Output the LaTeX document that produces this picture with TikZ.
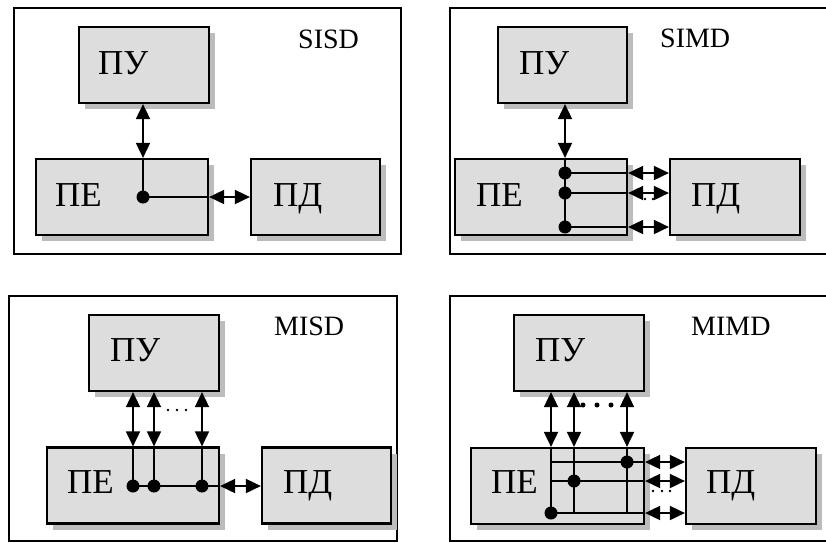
\documentclass[tikz,border=0pt]{standalone}
\usepackage{fontspec}
\setmainfont{Liberation Serif}
\usetikzlibrary{arrows.meta,shadows}
\definecolor{boxfill}{RGB}{221,221,221}
\definecolor{shadowfill}{RGB}{188,188,188}
\begin{document}
\begin{tikzpicture}[x=1pt,y=-1pt,
  frame/.style={draw=black,line width=1.8pt},
  box/.style={draw=black,line width=2.2pt,fill=boxfill,rectangle,inner sep=0pt,minimum height=76pt,
    drop shadow={shadow xshift=6pt,shadow yshift=-6pt,fill=shadowfill,opacity=1}},
  lbl/.style={inner sep=0pt,anchor=base west,font=\fontsize{35}{40}\selectfont},
  ttl/.style={inner sep=0pt,anchor=base west,font=\fontsize{28}{32}\selectfont},
  con/.style={line width=1.8pt},
  arr/.style={con,{Triangle[length=15pt,width=14pt]}-{Triangle[length=15pt,width=14pt]}},
  dot/.style={circle,fill=black,inner sep=0pt,minimum size=13pt},
  sdot/.style={fill=black}]
\useasboundingbox (0,0) rectangle (826,542);
\clip (0,0) rectangle (826,542);
\fill[white] (0,0) rectangle (826,542);

% frames
\draw[frame] (14,8) rectangle (401,254);
\draw[frame] (450,8) rectangle (840,254);
\draw[frame] (9,296) rectangle (397,541);
\draw[frame] (450,296) rectangle (840,541);

% ---------- SISD ----------
\node[box,minimum width=130pt] (pu1) at (144,65) {};
\node[box,minimum width=172pt] (pe1) at (122,197) {};
\node[box,minimum width=129pt] (pd1) at (315.5,197) {};
\node[lbl] (tpu1) at (98,74) {ПУ};
\node[lbl] (tpe1) at (55,206) {ПЕ};
\node[lbl] (tpd1) at (273,206) {ПД};
\node[ttl] (ttl1) at (298,48) {SISD};
\coordinate (d1) at (143,197);
\draw[arr] (pu1.south -| d1) -- (pe1.north -| d1);
\draw[con] (pe1.north -| d1) -- (d1) -- (pe1.east |- d1);
\draw[arr] (pe1.east |- d1) -- (pd1.west |- d1);
\node[dot] (dd1) at (d1) {};

% ---------- SIMD ----------
\node[box,minimum width=129pt] (pu2) at (562.5,65) {};
\node[box,minimum width=172pt] (pe2) at (541,197) {};
\node[box,minimum width=130pt] (pd2) at (735,197) {};
\node[lbl] (tpu2) at (519,74) {ПУ};
\node[lbl] (tpe2) at (476,206) {ПЕ};
\node[lbl] (tpd2) at (691,206) {ПД};
\node[ttl] (ttl2) at (660,47) {SIMD};
\coordinate (a2) at (565,173);
\coordinate (b2) at (565,193);
\coordinate (c2) at (565,227);
\fill[sdot] (645,199) circle (1.3) (653,199) circle (1.3);
\draw[arr] (pu2.south -| a2) -- (pe2.north -| a2);
\draw[con] (pe2.north -| a2) -- (c2);
\foreach \p in {a2,b2,c2}{
  \draw[con] (\p) -- (pe2.east |- \p);
  \draw[arr] (pe2.east |- \p) -- (pd2.west |- \p);
}
\node[dot] (da2) at (a2) {};
\node[dot] (db2) at (b2) {};
\node[dot] (dc2) at (c2) {};

% ---------- MISD ----------
\node[box,minimum width=130pt] (pu3) at (154,353) {};
\node[box,minimum width=172pt] (pe3) at (133,485.5) {};
\node[box,minimum width=129pt] (pd3) at (326.5,485.5) {};
\node[lbl] (tpu3) at (110,361) {ПУ};
\node[lbl] (tpe3) at (67,493) {ПЕ};
\node[lbl] (tpd3) at (283,493) {ПД};
\node[ttl] (ttl3) at (274,335) {MISD};
\coordinate (a3) at (133,486);
\coordinate (b3) at (154,486);
\coordinate (c3) at (202,486);
\foreach \p in {a3,b3,c3}{
  \draw[arr] (pu3.south -| \p) -- (pe3.north -| \p);
  \draw[con] (pe3.north -| \p) -- (\p);
}
\draw[con] (a3) -- (pe3.east |- a3);
\draw[arr] (pe3.east |- a3) -- (pd3.west |- a3);
\fill[sdot] (168,410) circle (1.3) (177,410) circle (1.3) (186,410) circle (1.3);
\node[dot] (da3) at (a3) {};
\node[dot] (db3) at (b3) {};
\node[dot] (dc3) at (c3) {};

% ---------- MIMD ----------
\node[box,minimum width=130pt] (pu4) at (579,353) {};
\node[box,minimum width=173pt] (pe4) at (557.5,486) {};
\node[box,minimum width=130pt] (pd4) at (751,486) {};
\node[lbl] (tpu4) at (535,361) {ПУ};
\node[lbl] (tpe4) at (491,493) {ПЕ};
\node[lbl] (tpd4) at (706,493) {ПД};
\node[ttl] (ttl4) at (691,335) {MIMD};
\coordinate (v1) at (551,513);
\coordinate (v2) at (574,513);
\coordinate (v3) at (627,513);
\coordinate (h1) at (551,462);
\coordinate (h2) at (551,481);
\coordinate (h3) at (551,513);
\fill[sdot] (653,491) circle (1.4) (662,491) circle (1.4) (670,491) circle (1.4);
\foreach \p in {v1,v2,v3}{
  \draw[arr] (pu4.south -| \p) -- (pe4.north -| \p);
  \draw[con] (pe4.north -| \p) -- (\p);
}
\foreach \p in {h1,h2,h3}{
  \draw[con] (\p) -- (pe4.east |- \p);
  \draw[arr] (pe4.east |- \p) -- (pd4.west |- \p);
}
\fill[sdot] (583,405) circle (2.5) (597,405) circle (2.5) (611,405) circle (2.5);
\node[dot] (da4) at (v3 |- h1) {};
\node[dot] (db4) at (v2 |- h2) {};
\node[dot] (dc4) at (h3) {};
\end{tikzpicture}
\end{document}
